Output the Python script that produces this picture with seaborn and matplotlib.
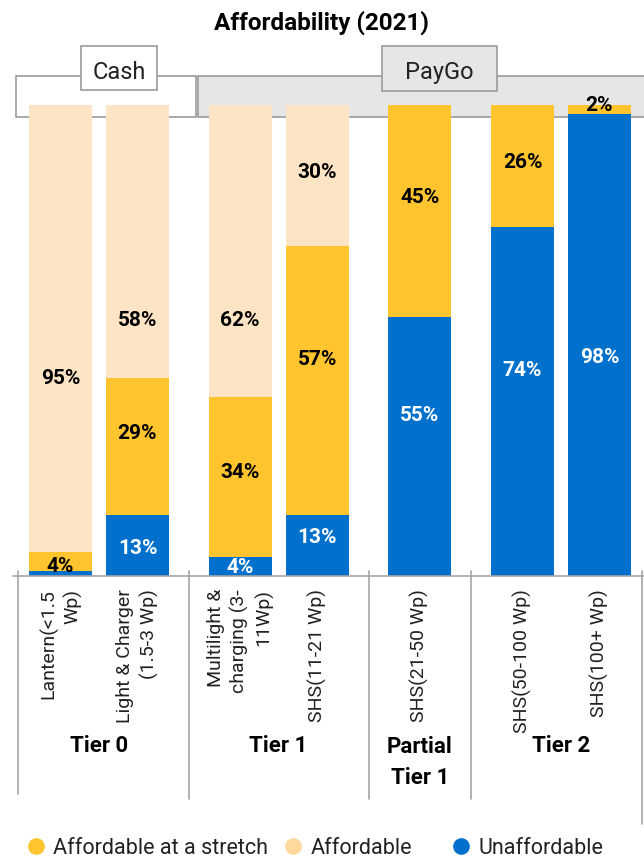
import numpy as np
import pandas as pd
import matplotlib
matplotlib.use("Agg")
import matplotlib.pyplot as plt
from matplotlib.patches import Rectangle
from matplotlib.lines import Line2D
from matplotlib import transforms, font_manager as fm
import seaborn as sns

# ---------------- data ----------------
products = ["Lantern(<1.5\nWp)", "Light & Charger\n(1.5-3 Wp)",
            "Multilight &\ncharging (3-\n11Wp)", "SHS(11-21 Wp)",
            "SHS(21-50 Wp)", "SHS(50-100 Wp)", "SHS(100+ Wp)"]
tiers = ["Tier 0", "Tier 0", "Tier 1", "Tier 1", "Partial\nTier 1", "Tier 2", "Tier 2"]
tier_order = ["Tier 0", "Tier 1", "Partial\nTier 1", "Tier 2"]
unaffordable = [1, 13, 4, 13, 55, 74, 98]
stretch = [4, 29, 34, 57, 45, 26, 2]
affordable = [95, 58, 62, 30, 0, 0, 0]
payment_groups = ["Cash", "PayGo"]
series_names = ["Affordable at a stretch", "Affordable", "Unaffordable"]
title = "Affordability (2021)"

# ---------------- layout / style ----------------
unaff_label_y = [0, 6.0, 2.0, 8.4, 34.2, 43.9, 46.5]
stretch_label_y = [2.2, 30.4, 22.1, 46.1, 80.5, 87.9, 100.0]
afford_label_y = [42.2, 54.4, 54.4, 85.9, 0, 0, 0]

C_STRETCH = "#FFC42E"
C_AFF = "#FDE4C4"
C_AFF_LEG = "#FED89C"
C_UNAFF = "#0070CD"
GRID = "#A6A6A6"

sns.set_theme(style="white")
names = {f.name for f in fm.fontManager.ttflist}
NARROW = "Liberation Sans Narrow" if "Liberation Sans Narrow" in names else "Roboto"
plt.rcParams["font.family"] = ["Roboto", "DejaVu Sans"]

W, H = 644, 862
fig = plt.figure(figsize=(W / 100, H / 100), dpi=100)
ax = fig.add_axes([0, (H - 577) / H, 1, 471 / H])
ax.patch.set_alpha(0)

# bar positions from grouping (in-group spacing 1, extra gap between tiers)
grp_idx = [tier_order.index(t) for t in tiers]
pos = [i + g / 3 for i, g in enumerate(grp_idx)]

df = pd.DataFrame({
    "pos": pos,
    "total": np.array(unaffordable) + np.array(stretch) + np.array(affordable),
    "lower2": np.array(unaffordable) + np.array(stretch),
    "unaff": unaffordable,
})

for col, c in [("total", C_AFF), ("lower2", C_STRETCH), ("unaff", C_UNAFF)]:
    sns.barplot(data=df, x="pos", y=col, native_scale=True, width=0.82,
                color=c, saturation=1, errorbar=None, linewidth=0, ax=ax, zorder=2)

x0 = (0 - 60.5) / 77
x1 = (W - 60.5) / 77
ax.set_xlim(x0, x1)
ax.set_ylim(0, 100)
for s in ax.spines.values():
    s.set_visible(False)
ax.set_yticks([])
ax.set_xlabel("")
ax.set_ylabel("")

ax.set_xticks(pos)
ax.set_xticklabels(products, rotation=90, ha="center", va="top",
                   multialignment="right", fontsize=14, fontweight="normal",
                   linespacing=1.35, color="#222222")
ax.tick_params(axis="x", length=0, pad=8.6)

# value labels
for i in range(len(pos)):
    segs = [(unaffordable[i], unaff_label_y[i], "white"),
            (stretch[i], stretch_label_y[i], "black"),
            (affordable[i], afford_label_y[i], "black")]
    for v, y, col in segs:
        if v >= 2:
            ax.text(pos[i], y, f"{v}%", ha="center", va="center", fontsize=15,
                    fontweight="bold", color=col, zorder=5)

# baseline
ax.axhline(0, xmin=13 / W, xmax=1, color=GRID, lw=1.2, zorder=3, clip_on=False)

# helpers for pixel placement
def fy(py):
    return 1 - py / H

blend = transforms.blended_transform_factory(ax.transData, fig.transFigure)

# group separators
bounds = [pos[0] - 0.55]
for k in range(len(pos) - 1):
    if tiers[k] != tiers[k + 1]:
        bounds.append((pos[k] + pos[k + 1]) / 2)
bounds.append(pos[-1] + 0.55)
for j, b in enumerate(bounds):
    ybot = 795 if j == 0 else (825 if j == len(bounds) - 1 else 800)
    ax.add_line(Line2D([b, b], [fy(572), fy(ybot)], transform=blend,
                       color=GRID, lw=1.2, clip_on=False, zorder=3))

# tier labels (first line baseline at the same height for all)
for t in tier_order:
    xs = [p for p, tt in zip(pos, tiers) if tt == t]
    nextra = t.count("\n")
    ax.text(np.mean(xs), fy(752 + 32 * nextra), t, transform=blend, ha="center",
            va="baseline", fontsize=16, fontweight="bold", linespacing=1.5,
            color="black")

# header boxes (Cash / PayGo)
def fig_rect(x0p, y0p, x1p, y1p, fc):
    r = Rectangle((x0p / W, fy(y1p)), (x1p - x0p) / W, (y1p - y0p) / H,
                  transform=fig.transFigure, facecolor=fc, edgecolor="#9B9B9B",
                  lw=1.2, clip_on=False, zorder=0.5)
    ax.add_patch(r)

fig_rect(16, 77, 196, 118, "white")
fig_rect(198, 77, 660, 118, "#E6E6E6")
fig_rect(81, 47, 157, 91, "white")
fig_rect(382, 47, 497, 92, "#E6E6E6")
fig.text(119 / W, fy(70), payment_groups[0], ha="center", va="center_baseline",
         fontsize=17, family=NARROW, color="#222222")
fig.text(439.5 / W, fy(70), payment_groups[1], ha="center", va="center_baseline",
         fontsize=17, family=NARROW, color="#222222")

# title
fig.text(0.5, fy(30), title, ha="center", va="baseline", fontsize=17.5,
         fontweight="bold", family=NARROW, color="black")

# legend (three entries placed along the bottom)
leg_colors = [C_STRETCH, C_AFF_LEG, C_UNAFF]
leg_x = [36, 293, 461]
for name, c, lx in zip(series_names, leg_colors, leg_x):
    h = Line2D([], [], marker="o", ls="", markersize=12, color=c, markeredgewidth=0)
    fs = 15.5
    hl = 0.8
    half = hl * fs * 100 / 72 / 2
    leg = fig.legend([h], [name], loc="center left",
                     bbox_to_anchor=((lx - half) / W, fy(849)), frameon=False,
                     handlelength=hl, handletextpad=0.4, borderpad=0,
                     borderaxespad=0, prop={"size": fs, "weight": "normal"})
    for txt in leg.get_texts():
        txt.set_color("#222222")

fig.savefig("out.png", dpi=100)
